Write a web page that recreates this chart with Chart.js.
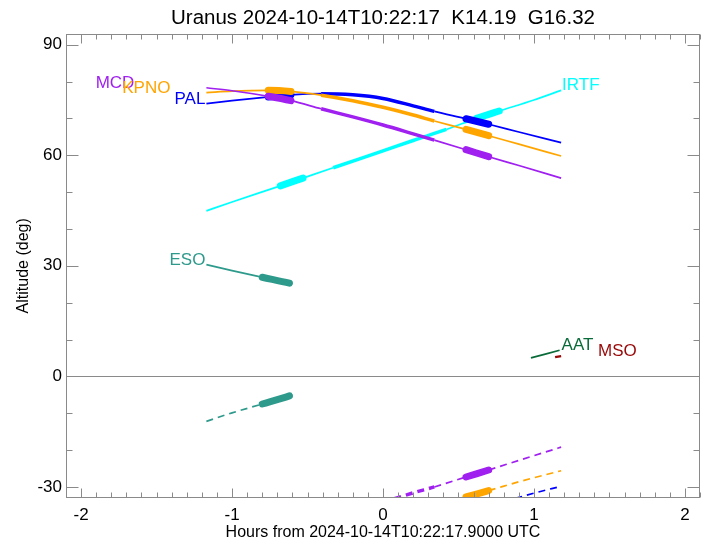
<!DOCTYPE html>
<html>
<head>
<meta charset="utf-8">
<script src="https://cdn.jsdelivr.net/npm/chart.js@4/dist/chart.umd.min.js"></script>
<style>
  html, body { margin: 0; padding: 0; background: #fff; }
</style>
</head>
<body>
<canvas id="chart" width="708" height="544"></canvas>
<script>
// hours from 2024-10-14T10:22:17.9 UTC -> altitude (deg)
const hoursMain = [-1.17, -1.0, -0.76, -0.61, -0.41, -0.2, 0.0, 0.2, 0.34, 0.55, 0.70, 0.9, 1.18];
const mcdAlt  = [78.3, 77.5, 76.0, 74.8, 72.6, 70.4, 68.2, 65.8, 64.1, 61.5, 59.6, 57.2, 53.8];
const kpnoAlt = [77.0, 77.4, 77.6, 77.3, 76.3, 74.8, 73.0, 70.9, 69.3, 67.0, 65.3, 63.0, 59.8];
const palAlt  = [74.0, 74.8, 75.8, 76.4, 76.7, 76.4, 75.4, 73.4, 71.9, 69.9, 68.4, 66.3, 63.4];

const hoursIrtf = [-1.17, -1.0, -0.68, -0.53, -0.33, 0.0, 0.2, 0.42, 0.62, 0.77, 1.0, 1.18];
const irtfAlt   = [44.9, 47.3, 51.7, 53.8, 56.6, 61.2, 64.0, 67.0, 70.0, 72.0, 75.0, 77.6];

const hoursEso  = [-1.17, -1.0, -0.8, -0.62, -0.6];
const esoAlt    = [30.3, 28.7, 26.9, 25.3, 25.1];
const esoLowAlt = [-12.2, -9.9, -7.5, -5.3, -5.0];

const hoursMcdLow  = [0.0, 0.2, 0.34, 0.55, 0.70, 0.9, 1.18];
const mcdLowAlt    = [-34.2, -31.6, -30.0, -27.3, -25.4, -22.8, -19.2];
const hoursKpnoLow = [0.4, 0.55, 0.70, 0.9, 1.18];
const kpnoLowAlt   = [-34.5, -32.7, -31.0, -28.6, -25.6];
const hoursPalLow  = [0.8, 1.0, 1.18];
const palLowAlt    = [-34.0, -31.7, -29.8];

const hoursAat = [0.98, 1.17];
const aatAlt   = [5.0, 7.1];
const hoursMso = [1.14, 1.18];
const msoAlt   = [5.2, 5.5];

// observing windows (hours)
const obsWindows      = [[-0.76, -0.61], [0.55, 0.70]];
const trackWindow     = [-0.41, 0.34];
const irtfObsWindows  = [[-0.68, -0.53], [0.62, 0.77]];
const irtfTrackWindow = [-0.33, 0.42];
const esoObsWindows   = [[-0.8, -0.62]];

const xTicks = [-2, -1, 0, 1, 2];
const yTicks = [-30, 0, 30, 60, 90];

const col = {
  MCD: '#A020F0', KPNO: '#FFA500', PAL: '#0000FF', IRTF: '#00FFFF',
  ESO: '#2E9A8C', AAT: '#0A6B3A', MSO: '#990808'
};

Chart.defaults.font.family = "'Liberation Sans', Arial, sans-serif";
Chart.defaults.color = '#000';

function inWin(m, w) { return m > w[0] && m < w[1]; }

function track(hours, alt, color, o) {
  o = o || {};
  const obs = o.obs || [];
  const trk = o.track || null;
  const dash = o.dashed ? [7, 5] : [];
  const isObs = ctx => obs.some(w => inWin((ctx.p0.parsed.x + ctx.p1.parsed.x) / 2, w));
  return {
    data: hours.map((h, i) => ({x: h, y: alt[i]})),
    borderColor: color,
    borderWidth: o.width || 1.7,
    borderDash: dash,
    pointRadius: 0,
    cubicInterpolationMode: 'monotone',
    clip: 0,
    segment: {
      borderWidth: ctx => {
        const m = (ctx.p0.parsed.x + ctx.p1.parsed.x) / 2;
        if (obs.some(w => inWin(m, w))) return 7;
        if (trk && inWin(m, trk)) return 3.5;
        return o.width || 1.7;
      },
      borderDash: ctx => isObs(ctx) ? [] : dash,
      borderCapStyle: ctx => isObs(ctx) ? 'round' : 'butt'
    }
  };
}

const siteLabels = [
  {text: 'MCD',  x: hoursMain[0], y: mcdAlt[0],  dx: -72, align: 'right', color: col.MCD},
  {text: 'KPNO', x: hoursMain[0], y: kpnoAlt[0], dx: -36, align: 'right', color: col.KPNO},
  {text: 'PAL',  x: hoursMain[0], y: palAlt[0],  dx: -1,  align: 'right', color: col.PAL},
  {text: 'IRTF', x: hoursIrtf[hoursIrtf.length - 1], y: irtfAlt[irtfAlt.length - 1], dx: 1, align: 'left', color: col.IRTF},
  {text: 'ESO',  x: hoursEso[0], y: esoAlt[0], dx: -1, align: 'right', color: col.ESO},
  {text: 'AAT',  x: hoursAat[1], y: aatAlt[1], dx: 2,  align: 'left', color: col.AAT},
  {text: 'MSO',  x: hoursMso[1], y: msoAlt[1], dx: 37, align: 'left', color: col.MSO}
];

const frame = {
  id: 'frame',
  beforeDatasetsDraw(chart) {
    const {ctx, chartArea: a, scales: {y}} = chart;
    const y0 = Math.round(y.getPixelForValue(0)) + 0.5;
    ctx.save();
    ctx.strokeStyle = '#8a8a8a';
    ctx.lineWidth = 1;
    ctx.beginPath();
    ctx.moveTo(a.left, y0);
    ctx.lineTo(a.right, y0);
    ctx.stroke();
    ctx.restore();
  },
  afterDatasetsDraw(chart) {
    const {ctx, chartArea: a, scales: {x, y}} = chart;
    ctx.save();
    ctx.strokeStyle = '#8a8a8a';
    ctx.lineWidth = 1;
    const L = Math.round(a.left) + 0.5, R = Math.round(a.right) - 0.5;
    const T = Math.round(a.top) + 0.5, B = Math.round(a.bottom) - 0.5;
    ctx.strokeRect(L, T, R - L, B - T);
    ctx.beginPath();
    for (let k = Math.ceil(x.min * 10); k <= Math.floor(x.max * 10); k++) {
      const px = Math.round(x.getPixelForValue(k / 10)) + 0.5;
      const len = k % 10 === 0 ? 9 : 5;
      ctx.moveTo(px, B); ctx.lineTo(px, B - len);
      ctx.moveTo(px, T); ctx.lineTo(px, T + len);
    }
    for (let v = Math.ceil(y.min / 10) * 10; v <= y.max; v += 10) {
      const py = Math.round(y.getPixelForValue(v)) + 0.5;
      const len = v % 30 === 0 ? 12 : 6;
      ctx.moveTo(L, py); ctx.lineTo(L + len, py);
      ctx.moveTo(R, py); ctx.lineTo(R - len, py);
    }
    ctx.stroke();

    ctx.font = "17px 'Liberation Sans', Arial, sans-serif";
    ctx.textBaseline = 'alphabetic';
    siteLabels.forEach(l => {
      ctx.fillStyle = l.color;
      ctx.textAlign = l.align;
      ctx.fillText(l.text, x.getPixelForValue(l.x) + l.dx, y.getPixelForValue(l.y));
    });
    ctx.restore();
  }
};

new Chart(document.getElementById('chart'), {
  type: 'line',
  data: {
    datasets: [
      track(hoursMain, mcdAlt, col.MCD, {obs: obsWindows, track: trackWindow}),
      track(hoursMain, kpnoAlt, col.KPNO, {obs: obsWindows, track: trackWindow}),
      track(hoursMain, palAlt, col.PAL, {obs: obsWindows, track: trackWindow}),
      track(hoursIrtf, irtfAlt, col.IRTF, {obs: irtfObsWindows, track: irtfTrackWindow}),
      track(hoursEso, esoAlt, col.ESO, {obs: esoObsWindows}),
      track(hoursEso, esoLowAlt, col.ESO, {obs: esoObsWindows, dashed: true}),
      track(hoursMcdLow, mcdLowAlt, col.MCD, {obs: obsWindows, track: trackWindow, dashed: true}),
      track(hoursKpnoLow, kpnoLowAlt, col.KPNO, {obs: obsWindows, track: trackWindow, dashed: true}),
      track(hoursPalLow, palLowAlt, col.PAL, {obs: obsWindows, track: trackWindow, dashed: true}),
      track(hoursAat, aatAlt, col.AAT, {}),
      track(hoursMso, msoAlt, col.MSO, {width: 2.2})
    ]
  },
  options: {
    responsive: false,
    animation: false,
    devicePixelRatio: 1,
    layout: {padding: {left: 0, right: 8, top: 0, bottom: 0}},
    plugins: {
      legend: {display: false},
      tooltip: {enabled: false},
      title: {
        display: true,
        fullSize: false,
        text: 'Uranus 2024-10-14T10:22:17  K14.19  G16.32',
        font: {size: 20.5, weight: 'normal'},
        color: '#000',
        padding: {top: 6, bottom: 3}
      }
    },
    scales: {
      x: {
        type: 'linear',
        min: -2.1, max: 2.1,
        afterFit: s => { s.height = 46; },
        afterBuildTicks: s => { s.ticks = xTicks.map(v => ({value: v})); },
        grid: {display: false, drawTicks: false},
        border: {display: false},
        ticks: {padding: 7, color: '#000', font: {size: 17}, includeBounds: false,
                callback: v => String(v)},
        title: {display: true, text: 'Hours from 2024-10-14T10:22:17.9000 UTC',
                color: '#000', font: {size: 16}, padding: {top: 0, bottom: 2}}
      },
      y: {
        type: 'linear',
        min: -33, max: 93,
        afterFit: s => { s.width = 66; },
        afterBuildTicks: s => { s.ticks = yTicks.map(v => ({value: v})); },
        grid: {display: false, drawTicks: false},
        border: {display: false},
        ticks: {padding: 4, color: '#000', font: {size: 17}, includeBounds: false,
                callback: v => String(v)},
        title: {display: true, text: 'Altitude (deg)', color: '#000',
                font: {size: 16}, padding: {top: 14, bottom: 0}}
      }
    }
  },
  plugins: [frame]
});
</script>
</body>
</html>
